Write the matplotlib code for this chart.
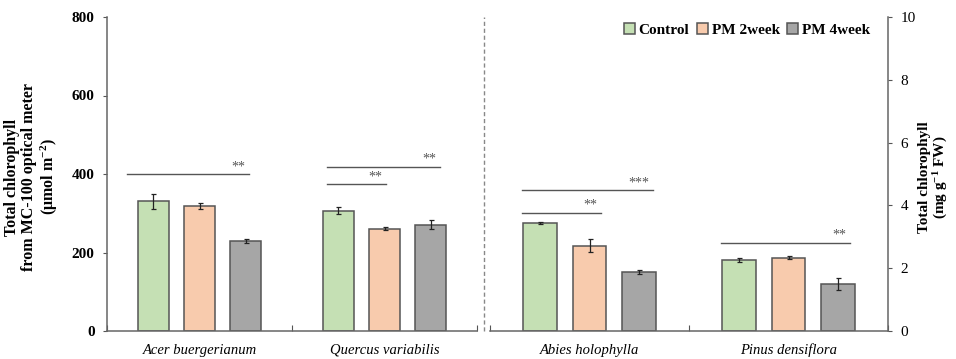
import matplotlib.pyplot as plt
import numpy as np

plt.rcParams['font.family'] = ['Liberation Serif', 'DejaVu Serif']
plt.rcParams['mathtext.fontset'] = 'custom'
plt.rcParams['mathtext.rm'] = 'Liberation Serif'
plt.rcParams['mathtext.bf'] = 'Liberation Serif:bold'
plt.rcParams['mathtext.default'] = 'bf'

groups = ['Control', 'PM 2week', 'PM 4week']
colors = ['#c5e0b4', '#f8cbad', '#a6a6a6']

# MC-100 optical meter (umol m-2)
left_species = ['Acer buergerianum', 'Quercus variabilis']
left_vals = [[330, 307], [318, 261], [229, 271]]
left_err = [[20, 9], [8, 3], [6, 11]]

# extracted chlorophyll (mg g-1 FW)
right_species = ['Abies holophylla', 'Pinus densiflora']
right_vals = [[3.44, 2.25], [2.72, 2.34], [1.88, 1.49]]
right_err = [[0.03, 0.06], [0.2, 0.05], [0.06, 0.19]]

# significance lines: (x start, x end, height, stars)
left_sig = [(-0.39, 0.27, 400, '**'), (0.69, 1.30, 418, '**'), (0.69, 1.01, 374, '**')]
right_sig = [(-0.34, 0.32, 4.49, '***'), (-0.34, 0.06, 3.77, '**'), (0.66, 1.31, 2.81, '**')]

W, H = 956, 359
fig = plt.figure(figsize=(W / 100, H / 100), dpi=100)
axL = fig.add_axes([107 / W, 1 - 331 / H, 370 / W, 314 / H])
axR = fig.add_axes([490 / W, 1 - 331 / H, 398 / W, 314 / H])

offs = [-0.25, 0, 0.25]
bw = 0.17
edge = '#555555'


def draw(ax, species, vals, errs, sig, ymax, step):
    x = np.arange(len(species))
    for i in range(3):
        ax.bar(x + offs[i], vals[i], bw, color=colors[i], edgecolor=edge,
               linewidth=1.1, label=groups[i], zorder=2)
        ax.errorbar(x + offs[i], vals[i], yerr=errs[i], fmt='none',
                    ecolor='#222222', elinewidth=0.9, capsize=1.8, capthick=0.9, zorder=3)
    for x0, x1, h, txt in sig:
        ax.plot([x0, x1], [h, h], color='#555555', lw=1.0, zorder=3)
        ax.text(x1 - 0.02, h + ymax * 0.003, txt, ha='right', va='bottom',
                fontsize=10, color='#555555')
    ax.set_xlim(-0.5, len(species) - 0.5)
    ax.set_ylim(0, ymax)
    ax.set_yticks(np.arange(0, ymax + step / 2, step))
    ax.set_xticks(np.arange(len(species) + 1) - 0.5)
    ax.set_xticklabels([])
    ax.tick_params(axis='x', direction='in', length=4, color='#555555')
    ax.tick_params(axis='y', direction='out', length=3, color='#555555',
                   labelsize=11, pad=6)
    for lab in ax.get_yticklabels():
        lab.set_fontweight('bold')
    for i, name in enumerate(species):
        ax.text(i, -0.04 * ymax, name, ha='center', va='top',
                fontsize=10.5, style='italic')
    ax.spines['top'].set_visible(False)
    for sp in ax.spines.values():
        sp.set_color('#666666')
        sp.set_linewidth(1.1)


draw(axL, left_species, left_vals, left_err, left_sig, 800, 200)
axL.spines['right'].set_visible(False)
axL.set_ylabel('Total chlorophyll\nfrom MC-100 optical meter\n(μmol m$^{-2}$)',
               fontsize=11.5, fontweight='bold', linespacing=1.1)
axL.yaxis.set_label_coords(-0.127, 0.49)

draw(axR, right_species, right_vals, right_err, right_sig, 10, 2)
axR.spines['left'].set_visible(False)
axR.yaxis.tick_right()
axR.yaxis.set_label_position('right')
axR.set_ylabel('Total chlorophyll\n(mg g$^{-1}$ FW)', fontsize=11,
               fontweight='bold', rotation=90, linespacing=1.05)
axR.yaxis.set_label_coords(1.075, 0.49)

# dashed divider between the two measurement methods
fig.add_artist(plt.Line2D([484 / W, 484 / W], [1 - 331 / H, 1 - 17 / H],
                          color='#888888', lw=1.0, ls=(0, (3, 2))))

handles, labels = axR.get_legend_handles_labels()
fig.legend(handles, labels, loc='center', bbox_to_anchor=(747 / W, 1 - 30 / H),
           ncol=3, frameon=False, prop={'weight': 'bold', 'size': 11},
           handlelength=0.7, handleheight=0.7, handletextpad=0.25,
           columnspacing=0.5, borderaxespad=0)

fig.savefig('out.png', dpi=100)
